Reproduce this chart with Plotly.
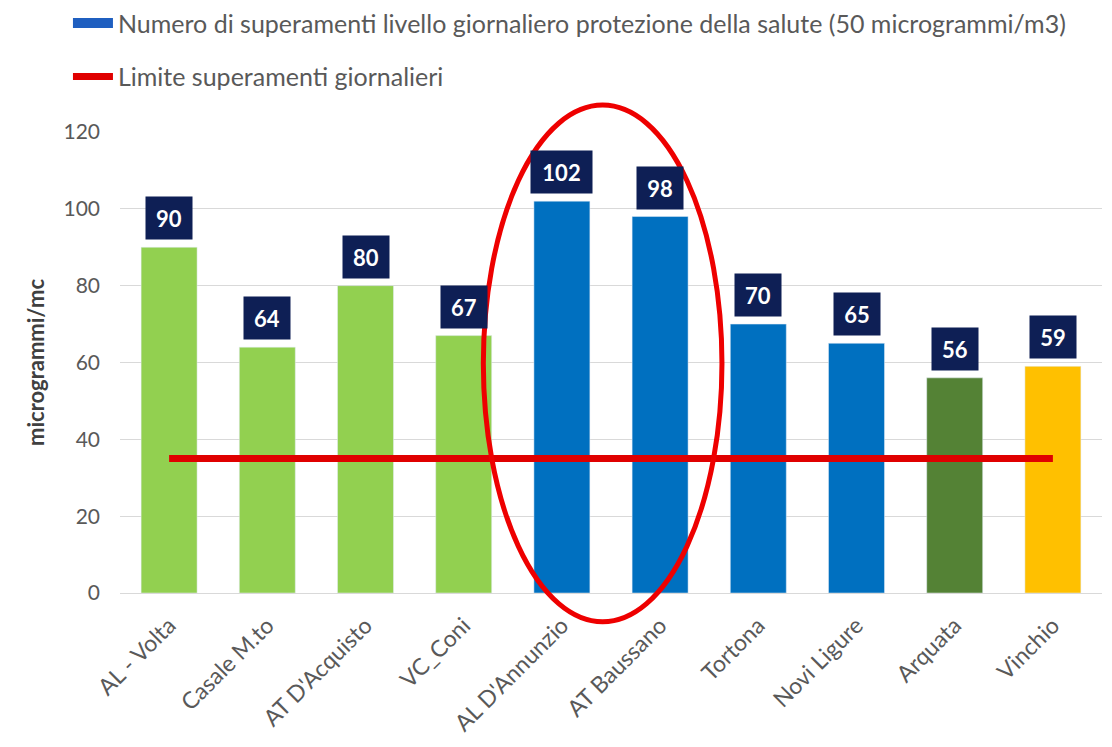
import plotly.graph_objects as go

categories = ["AL - Volta", "Casale M.to", "AT D'Acquisto", "VC_Coni", "AL D'Annunzio",
              "AT Baussano", "Tortona", "Novi Ligure", "Arquata", "Vinchio"]
values = [90, 64, 80, 67, 102, 98, 70, 65, 56, 59]
bar_colors = ["#92d050", "#92d050", "#92d050", "#92d050", "#0070c0",
              "#0070c0", "#0070c0", "#0070c0", "#548235", "#ffc000"]
limit_value = 35
bar_name = "Numero di superamenti livello giornaliero protezione della salute (50 microgrammi/m3)"
line_name = "Limite superamenti giornalieri"
y_ticks = [0, 20, 40, 60, 80, 100, 120]
highlight = (3.2, 5.63, -7.5, 127)  # ellipse around highlighted stations (category index / value units)

FONT = "Lato"
GRAY = "#595959"

fig = go.Figure()
fig.add_trace(go.Bar(x=categories, y=values, marker_color=bar_colors, width=0.57,
                     showlegend=False, hoverinfo="x+y"))
# legend entry for the bars (drawn as a wide rectangle like the original)
fig.add_trace(go.Scatter(x=[None], y=[None], mode="lines", line=dict(color="#1f5fc0", width=15),
                         name=bar_name, legendgroup="a", showlegend=True))
fig.add_trace(go.Scatter(x=categories, y=[limit_value] * len(categories), mode="lines",
                         line=dict(color="#e00000", width=7), name=line_name, legendgroup="b"))

for c, v in zip(categories, values):
    s = str(v)
    fig.add_annotation(x=c, y=v, text="<b>%s</b>" % s, showarrow=False, yanchor="bottom",
                       yshift=7, bgcolor="#0e1f55", borderpad=7,
                       width=15 * len(s) + 2, height=28,
                       font=dict(family=FONT, size=22, color="white"))

ymax = y_ticks[-1]
n = len(categories)
x0, x1, y0, y1 = highlight
fig.add_shape(type="circle", xref="paper", yref="paper",
              x0=(x0 + 0.5) / n, x1=(x1 + 0.5) / n, y0=y0 / ymax, y1=y1 / ymax,
              line=dict(color="#ee0000", width=5), layer="above")

fig.update_layout(
    width=1112, height=747,
    margin=dict(l=112, r=18, t=124, b=162, autoexpand=False),
    plot_bgcolor="white", paper_bgcolor="white",
    barmode="overlay",
    font=dict(family=FONT, color=GRAY),
    legend=dict(x=-0.053, y=1.286, xanchor="left", yanchor="top", orientation="v",
                font=dict(family=FONT, size=25, color=GRAY), tracegroupgap=18,
                bgcolor="rgba(0,0,0,0)", itemwidth=40),
    xaxis=dict(type="category", tickangle=-45, tickfont=dict(size=23, color=GRAY),
               showline=True, linecolor="#d9d9d9", linewidth=1, range=[-0.5, n - 0.5],
               ticks="", ticklabelstandoff=9),
    yaxis=dict(range=[0, ymax], tickvals=y_ticks, tickfont=dict(size=21, color=GRAY),
               gridcolor="#d9d9d9", gridwidth=1, zeroline=False, ticklabelstandoff=19,
               title=dict(text="<b>microgrammi/mc</b>", font=dict(size=22, color="#404040"),
                          standoff=12)),
)

fig.write_html("out.html")
